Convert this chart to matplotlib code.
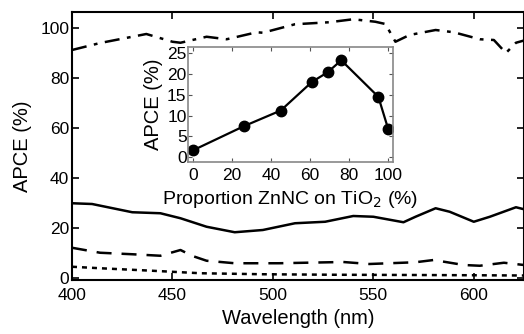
import matplotlib.pyplot as plt
import numpy as np

plt.rcParams['font.family'] = ['Liberation Sans', 'DejaVu Sans']

# main spectra (APCE %)
wl_dashdot = [400, 414, 430, 437, 450, 454, 467, 477, 492, 495, 511, 528, 540, 551, 556,
              561, 568, 581, 590, 603, 610, 616, 621, 625]
apce_dashdot = [91.2, 94.0, 96.5, 97.6, 94.5, 94.1, 96.5, 95.5, 98.3, 98.1, 101.5, 102.3,
                103.5, 102.5, 101.6, 94.5, 97.2, 99.2, 98.3, 95.5, 95.2, 90.0, 94.1, 95.0]

wl_solid = [400, 410, 430, 444, 454, 467, 481, 495, 511, 526, 540, 550, 565, 571, 581,
            588, 600, 608, 621, 625]
apce_solid = [29.9, 29.6, 26.3, 25.9, 23.9, 20.5, 18.3, 19.2, 21.9, 22.5, 24.8, 24.5,
              22.3, 24.5, 27.9, 26.5, 22.5, 24.5, 28.3, 27.5]

wl_dashed = [400, 414, 430, 444, 454, 460, 467, 481, 495, 503, 535, 548, 571, 580, 595,
             603, 615, 625]
apce_dashed = [12.1, 10.1, 9.5, 8.9, 11.2, 8.8, 6.9, 5.9, 5.9, 5.9, 6.4, 5.6, 6.3, 7.2,
               5.2, 4.9, 6.1, 5.2]

wl_dotted = [400, 414, 440, 464, 495, 530, 570, 600, 625]
apce_dotted = [4.5, 3.9, 2.9, 1.9, 1.5, 1.3, 1.2, 1.1, 1.0]

# inset
proportion = [0, 26, 45, 61, 69, 76, 95, 100]
apce_inset = [1.6, 7.4, 11.2, 18.1, 20.4, 23.3, 14.5, 6.8]

fig = plt.figure(figsize=(5.24, 3.34), dpi=100)
ax = fig.add_axes([72 / 524, 1 - 280 / 334, 452 / 524, 268 / 334])

ax.plot(wl_dashdot, apce_dashdot, color='black', lw=1.8, ls=(0, (6, 3, 1.5, 3)))
ax.plot(wl_solid, apce_solid, color='black', lw=1.8, ls='-')
ax.plot(wl_dashed, apce_dashed, color='black', lw=1.8, ls=(0, (6, 4)))
ax.plot(wl_dotted, apce_dotted, color='black', lw=1.8, ls=(0, (2, 2)))

ax.set_xlim(400, 625)
ax.set_ylim(-0.8, 106.4)
ax.set_xticks([400, 450, 500, 550, 600])
ax.set_yticks([0, 20, 40, 60, 80, 100])
ax.tick_params(direction='in', top=True, right=True, length=5, width=1.2,
               labelsize=12.5, pad=2)
ax.tick_params(axis='x', pad=5.5)
ax.set_xlabel('Wavelength (nm)', fontsize=14.5, labelpad=4.5)
ax.set_ylabel('APCE (%)', fontsize=14.5, labelpad=6)
for s in ax.spines.values():
    s.set_linewidth(1.5)

# inset
ins = fig.add_axes([188 / 524, 1 - 162 / 334, 205 / 524, 115 / 334])
ins.plot(proportion, apce_inset, color='black', lw=1.6, marker='o', ms=7.5)
ins.set_xlim(-2.5, 102.5)
ins.set_ylim(-1.2, 26.5)
ins.set_xticks([0, 20, 40, 60, 80, 100])
ins.set_yticks([0, 5, 10, 15, 20, 25])
ins.tick_params(direction='in', top=True, right=True, length=3, width=0.8,
                labelsize=12.5, pad=1, color='#555555')
ins.tick_params(axis='x', pad=4)
ins.set_xlabel('Proportion ZnNC on TiO$_2$ (%)', fontsize=14, labelpad=5)
ins.set_ylabel('APCE (%)', fontsize=14.5, labelpad=3)
for s in ins.spines.values():
    s.set_color('#888888')
    s.set_linewidth(1.2)

fig.savefig('out.png', dpi=100)
